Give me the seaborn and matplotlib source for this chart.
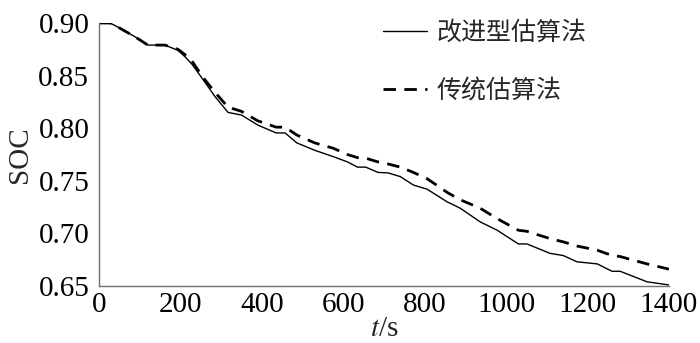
import numpy as np
import pandas as pd
import matplotlib
matplotlib.use("Agg")
import matplotlib.pyplot as plt
import seaborn as sns
from matplotlib.lines import Line2D

# ---- data ----
t = [0, 27, 47, 88, 120, 162, 194, 211, 228, 256, 285, 317, 350, 390, 435, 457,
     486, 530, 575, 610, 635, 655, 685, 710, 740, 772, 806, 855, 887, 936, 978,
     1030, 1051, 1108, 1140, 1174, 1224, 1260, 1280, 1346, 1400]
soc_improved = [0.900, 0.900, 0.896, 0.887, 0.879, 0.879, 0.874, 0.868, 0.861, 0.846,
                0.830, 0.815, 0.8125, 0.803, 0.7955, 0.7955, 0.786, 0.779, 0.773,
                0.768, 0.763, 0.763, 0.758, 0.7575, 0.754, 0.746, 0.742, 0.730,
                0.724, 0.711, 0.703, 0.690, 0.690, 0.681, 0.679, 0.673, 0.671,
                0.664, 0.664, 0.654, 0.651]
soc_traditional = [0.900, 0.900, 0.896, 0.887, 0.879, 0.879, 0.875, 0.870, 0.864, 0.848,
                   0.834, 0.820, 0.816, 0.807, 0.801, 0.801, 0.7935, 0.786, 0.781,
                   0.775, 0.772, 0.7715, 0.768, 0.766, 0.763, 0.758, 0.752, 0.739,
                   0.732, 0.724, 0.714, 0.703, 0.702, 0.695, 0.692, 0.688, 0.684,
                   0.679, 0.678, 0.671, 0.666]
labels = ["改进型估算法", "传统估算法"]
xticks = [0, 200, 400, 600, 800, 1000, 1200, 1400]
yticks = [0.65, 0.70, 0.75, 0.80, 0.85, 0.90]

df = pd.DataFrame({
    "t": t * 2,
    "soc": soc_improved + soc_traditional,
    "method": [labels[0]] * len(t) + [labels[1]] * len(t),
})

sns.set_theme(style="white")
plt.rcParams["font.family"] = ["Liberation Serif", "DejaVu Serif"]
plt.rcParams["mathtext.fontset"] = "stix"

fig = plt.figure(figsize=(7, 3.43), dpi=100)
ax = fig.add_axes([99 / 700, 1 - 286 / 343, 570 / 700, 263 / 343])

sns.lineplot(data=df[df.method == labels[0]], x="t", y="soc", color="black",
             linewidth=1.0, ax=ax, legend=False)
sns.lineplot(data=df[df.method == labels[1]], x="t", y="soc", color="black",
             linewidth=2.0, ax=ax, legend=False, linestyle=(0, (4.5, 3)))

ax.set_xlim(0, 1400)
ax.set_ylim(0.65, 0.90)
ax.set_xticks(xticks)
ax.set_xticklabels([str(v) for v in xticks])
ax.set_yticks(yticks)
ax.set_yticklabels([f"{v:.2f}" for v in yticks])

for s in ["top", "right"]:
    ax.spines[s].set_visible(False)
for s in ["left", "bottom"]:
    ax.spines[s].set_color("#707070")
    ax.spines[s].set_linewidth(1.0)
ax.tick_params(axis="both", direction="in", length=8, width=1.0, color="#707070",
               labelsize=21, labelcolor="black")
ax.tick_params(axis="y", pad=7)
ax.tick_params(axis="x", pad=4)

ax.set_xlabel("$t$/s", fontsize=21, labelpad=-1)
ax.set_ylabel("SOC", fontsize=21, labelpad=4)

handles = [Line2D([], [], color="black", linewidth=1.0),
           Line2D([], [], color="black", linewidth=2.0, linestyle=(0, (4.5, 3)))]
leg = fig.legend(handles, labels, loc="upper left",
                 bbox_to_anchor=(383 / 700, 1 - 20 / 343),
                 frameon=False, borderpad=0, borderaxespad=0,
                 handlelength=1.75, handletextpad=0.4, labelspacing=1.25,
                 prop={"family": ["Noto Sans CJK SC", "DejaVu Sans"], "size": 18})

fig.savefig("out.png", dpi=100)
